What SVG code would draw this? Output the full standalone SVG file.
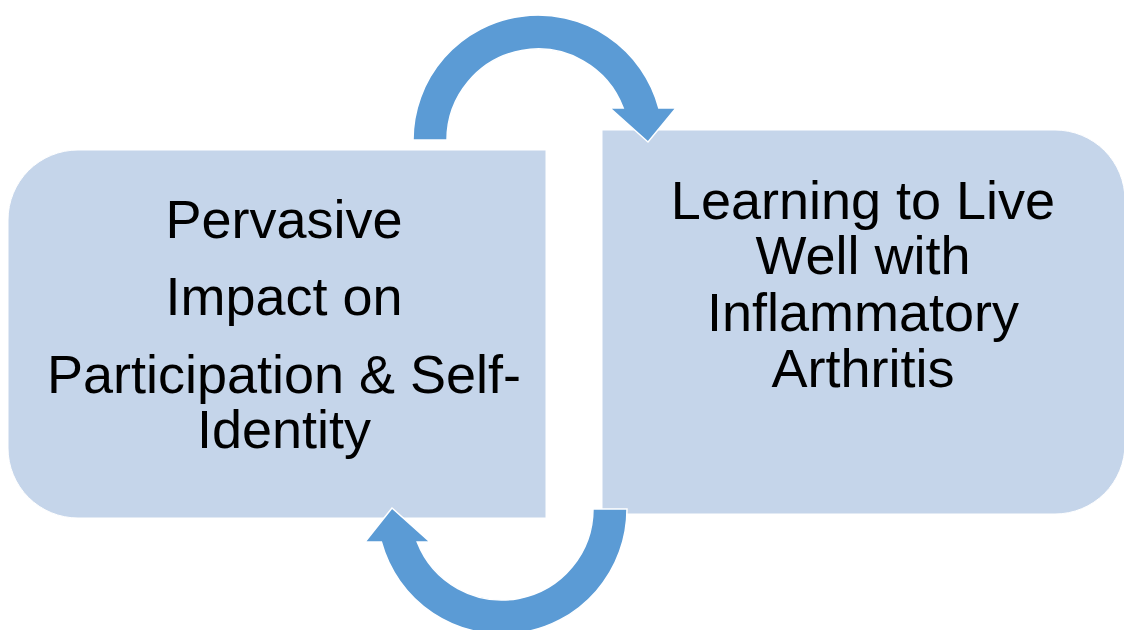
<svg xmlns="http://www.w3.org/2000/svg" width="1124" height="630" viewBox="0 0 1124 630">
<style>
.box{fill:#C5D5EA;stroke:#FFFFFF;stroke-width:1}
.arrow{fill:#5B9BD5;stroke:#FFFFFF;stroke-width:1.5;stroke-linejoin:miter}
.lbl{font-family:"Liberation Sans",Arial,sans-serif;font-size:54px;fill:#000000;text-anchor:middle}
</style>
<rect width="1124" height="630" fill="#FFFFFF"/>
<g id="node-pervasive">
<path class="box" d="M78 150 H546 V518 H78 A70 70 0 0 1 8 448 V220 A70 70 0 0 1 78 150 Z"/>
<text class="lbl" x="284" y="238">Pervasive</text>
<text class="lbl" x="284" y="315">Impact on</text>
<text class="lbl" x="284" y="393">Participation &amp; Self-</text>
<text class="lbl" x="284" y="448">Identity</text>
</g>
<g id="node-learning">
<path class="box" d="M602 130 H1055 A70 70 0 0 1 1125 200 V444 A70 70 0 0 1 1055 514 H602 Z"/>
<text class="lbl" x="863" y="219">Learning to Live</text>
<text class="lbl" x="863" y="274">Well with</text>
<text class="lbl" x="863" y="331">Inflammatory</text>
<text class="lbl" x="863" y="387">Arthritis</text>
</g>
<g id="connectors">
<path class="arrow" d="M413 140 A125 125 0 0 1 658.8 108 L676 108 L648 142 L610 108 L623.2 108 A91 91 0 0 0 447 140 Z"/>
<path class="arrow" d="M593 509 A91 91 0 0 1 417.2 542 L430 542 L392 508 L365 542 L381.4 542 A125 125 0 0 0 627 509 Z"/>
</g>
</svg>
